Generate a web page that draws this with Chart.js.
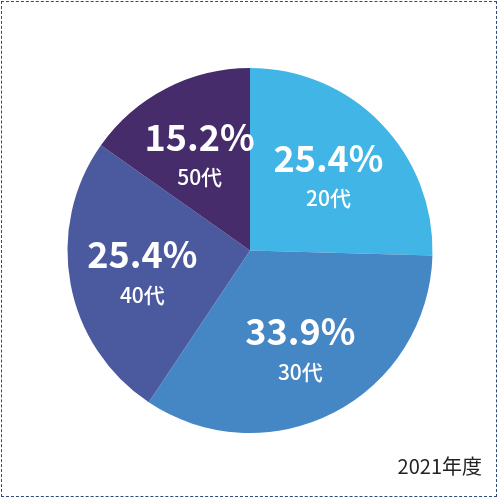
<!DOCTYPE html>
<html><head><meta charset="utf-8">
<script src="https://cdn.jsdelivr.net/npm/chart.js@4"></script>
<style>
html,body{margin:0;padding:0;background:#fff;}
#wrap{position:absolute;left:1px;top:1px;width:496px;height:496px;border:1.5px dashed #2c4a7a;box-sizing:border-box;}
#c{position:absolute;left:0;top:0;}
#yr{position:absolute;right:18px;bottom:20px;font:20px "Noto Sans CJK JP";color:#222;}
</style></head><body>
<div id="wrap"></div>
<canvas id="c" width="500" height="500"></canvas>
<div id="yr">2021年度</div>
<script>
const categories=["20代","30代","40代","50代"];
const values=[25.4,33.9,25.4,15.2];
const colors=["#41b5e6","#4586c5","#4b5a9e","#462c6b"];
const labelPlugin={id:'lbl',afterDatasetsDraw(chart){
  const ctx=chart.ctx;const meta=chart.getDatasetMeta(0);
  meta.data.forEach((arc,i)=>{
    const p=arc.getProps(['startAngle','endAngle','outerRadius','x','y'],true);
    const a=(p.startAngle+p.endAngle)/2, r=p.outerRadius*0.6;
    const x=p.x+Math.cos(a)*r, y=p.y+Math.sin(a)*r;
    ctx.save();ctx.fillStyle='#fff';ctx.textAlign='center';ctx.textBaseline='middle';
    ctx.font='bold 36px "Noto Sans CJK JP"';
    ctx.fillText(values[i].toFixed(1)+'%',x,y-16);
    ctx.font='500 21px "Noto Sans CJK JP"';
    ctx.fillText(categories[i],x,y+24);
    ctx.restore();
  });
}};
new Chart(document.getElementById('c'),{type:'pie',
 data:{labels:categories,datasets:[{data:values,backgroundColor:colors,borderWidth:0}]},
 options:{responsive:false,animation:false,layout:{padding:{top:68,bottom:67,left:67,right:67}},
 plugins:{legend:{display:false},tooltip:{enabled:false}}},
 plugins:[labelPlugin]});
</script></body></html>
